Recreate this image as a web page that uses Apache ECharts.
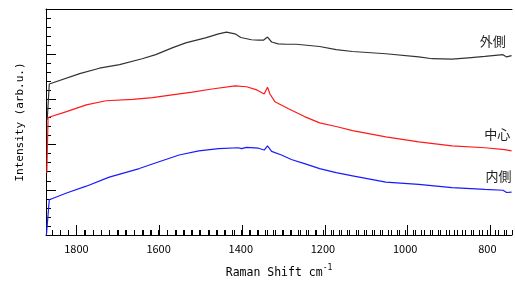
<!DOCTYPE html>
<html>
<head>
<meta charset="utf-8">
<script src="https://cdn.jsdelivr.net/npm/echarts@6/dist/echarts.min.js"></script>
<style>
html,body{margin:0;padding:0;background:#fff;}
#chart{width:515px;height:284px;}
</style>
</head>
<body>
<div id="chart"></div>
<script>
// 外側
var outerX = [1871, 1866, 1792, 1744, 1695, 1640, 1607, 1567, 1534, 1486, 1454, 1435, 1414, 1400, 1374, 1357, 1345, 1335, 1325, 1309, 1289, 1265, 1208, 1168, 1128, 1047, 967, 934, 886, 846, 806, 762, 753, 741];
var outerY = [2.55, 3.34, 3.57, 3.69, 3.77, 3.90, 3.99, 4.14, 4.25, 4.36, 4.45, 4.49, 4.45, 4.37, 4.32, 4.31, 4.31, 4.38, 4.27, 4.23, 4.22, 4.22, 4.17, 4.10, 4.06, 4.01, 3.94, 3.90, 3.89, 3.92, 3.95, 3.99, 3.94, 3.97];
// 中心
var centerX = [1872, 1869, 1824, 1776, 1728, 1663, 1615, 1567, 1518, 1470, 1414, 1386, 1361, 1343, 1335, 1329, 1317, 1285, 1245, 1208, 1168, 1128, 1047, 967, 886, 806, 758, 741];
var centerY = [1.37, 2.60, 2.73, 2.88, 2.97, 3.00, 3.04, 3.10, 3.16, 3.23, 3.30, 3.28, 3.21, 3.12, 3.27, 3.12, 2.95, 2.80, 2.62, 2.48, 2.40, 2.31, 2.17, 2.06, 1.97, 1.93, 1.89, 1.86];
// 内側
var innerX = [1873, 1866, 1824, 1776, 1720, 1647, 1599, 1550, 1502, 1454, 1406, 1398, 1386, 1357, 1343, 1335, 1325, 1301, 1277, 1245, 1208, 1168, 1128, 1047, 967, 886, 806, 762, 753, 741];
var innerY = [0, 0.78, 0.93, 1.08, 1.28, 1.47, 1.62, 1.77, 1.86, 1.91, 1.93, 1.91, 1.94, 1.92, 1.88, 1.97, 1.85, 1.77, 1.67, 1.58, 1.47, 1.38, 1.31, 1.17, 1.12, 1.05, 1.01, 0.99, 0.94, 0.95];

var seriesNames = ['外側', '中心', '内側'];
var seriesColors = ['#333333', '#ff1a1a', '#1a1aff'];
var majorTicks = [1800, 1600, 1400, 1200, 1000, 800];
// 文字ラベルの位置 (データ座標)
var labelX = [787, 776, 773];
var labelY = [4.30, 2.23, 1.31];

var xMin = 740, xMax = 1874;

function pairs(xs, ys) {
    return xs.map(function(x, i) { return [x, ys[i]]; });
}

var chart = echarts.init(document.getElementById('chart'));
var plotBox = {left: 46, top: 9, right: 0, bottom: 49};
// x軸の目盛り用の細いグリッド (小目盛り 5px, 主目盛り 10px)
var minorBox = {left: 46, top: 230, right: 0, bottom: 49};
var majorBox = {left: 46, top: 225, right: 0, bottom: 49};

// 20刻みの線のうち 200 の倍数だけ黒くする (最初の線は 760 なので 800 は 2 番目)
var majorColors = [];
for (var k = 0; k < 10; k++) majorColors.push(k === 2 ? '#000' : 'rgba(0,0,0,0)');

function tickAxis(gridIndex, colors) {
    return {
        type: 'value', gridIndex: gridIndex, position: 'bottom', inverse: true,
        min: xMin, max: xMax, interval: 20,
        axisLine: {show: false}, axisTick: {show: false}, axisLabel: {show: false},
        splitLine: {show: true, showMinLine: false, showMaxLine: false, lineStyle: {color: colors, width: 1}}
    };
}

var option = {
    animation: false,
    grid: [plotBox, minorBox, majorBox],
    xAxis: [{
        type: 'value', gridIndex: 0, position: 'bottom', inverse: true,
        min: xMin, max: xMax, interval: 20,
        axisLine: {lineStyle: {color: '#000', width: 1}},
        axisTick: {inside: true, length: 5, lineStyle: {color: '#000', width: 1}},
        axisLabel: {
            color: '#000', fontSize: 11, fontFamily: 'Noto Sans CJK JP', margin: 8,
            formatter: function(v) { return majorTicks.indexOf(v) >= 0 ? String(v) : ''; }
        },
        splitLine: {show: false},
        name: '{a|Raman Shift cm}{s|-1}',
        nameLocation: 'middle', nameGap: 29,
        nameTextStyle: {
            rich: {
                a: {fontFamily: 'DejaVu Sans Mono', fontSize: 11.5, color: '#000'},
                s: {fontFamily: 'DejaVu Sans Mono', fontSize: 8, color: '#000', verticalAlign: 'top', padding: [0, 0, 10, 0]}
            }
        }
    }, {
        // 上の枠線
        type: 'value', gridIndex: 0, position: 'top', inverse: true,
        min: xMin, max: xMax,
        axisLine: {lineStyle: {color: '#000', width: 1}},
        axisTick: {show: false}, axisLabel: {show: false}, splitLine: {show: false}
    },
        tickAxis(1, '#000'),
        tickAxis(2, majorColors)
    ],
    yAxis: [{
        type: 'value', gridIndex: 0, min: 0, max: 5, interval: 1,
        axisLine: {show: true, lineStyle: {color: '#000', width: 1}},
        axisTick: {inside: true, length: 10, lineStyle: {color: '#000'}},
        minorTick: {show: true, splitNumber: 5, length: 5, lineStyle: {color: '#000'}},
        axisLabel: {show: false},
        splitLine: {show: false},
        name: 'Intensity (arb.u.)',
        nameLocation: 'middle', nameGap: 20,
        nameTextStyle: {fontFamily: 'DejaVu Sans Mono', fontSize: 11, color: '#000'}
    },
        {type: 'value', gridIndex: 1, min: 0, max: 1, show: false},
        {type: 'value', gridIndex: 2, min: 0, max: 1, show: false}
    ],
    series: [
        {name: seriesNames[0], data: pairs(outerX, outerY)},
        {name: seriesNames[1], data: pairs(centerX, centerY)},
        {name: seriesNames[2], data: pairs(innerX, innerY)}
    ].map(function(s, i) {
        return {
            name: s.name, type: 'line', data: s.data,
            xAxisIndex: 0, yAxisIndex: 0,
            symbol: 'none', smooth: false,
            lineStyle: {color: seriesColors[i], width: 1.2},
            itemStyle: {color: seriesColors[i]},
            // 系列名ラベル
            markPoint: {
                silent: true,
                symbol: 'circle', symbolSize: 1,
                itemStyle: {color: 'rgba(0,0,0,0)'},
                label: {
                    show: true, position: 'inside', formatter: s.name,
                    color: '#222', fontSize: 13, fontFamily: 'Noto Sans CJK JP'
                },
                data: [{coord: [labelX[i], labelY[i]]}]
            }
        };
    })
};
chart.setOption(option);
</script>
</body>
</html>
